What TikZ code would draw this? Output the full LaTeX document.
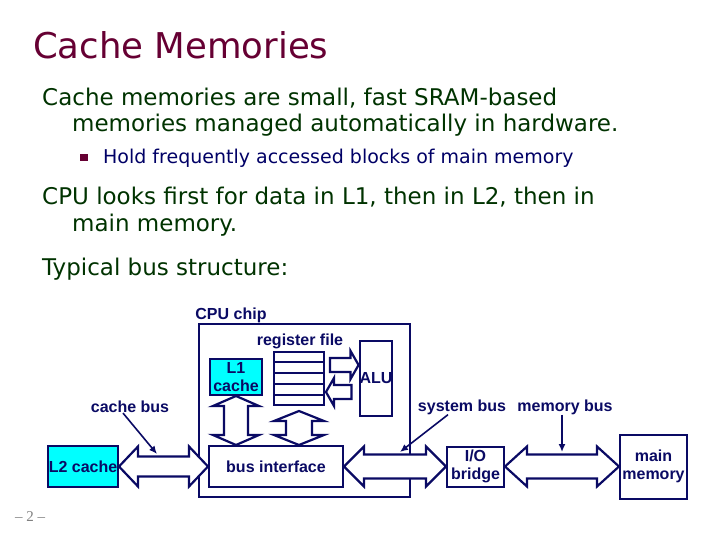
\documentclass[tikz,border=0pt]{standalone}
\usepackage{fontspec}
\setmainfont{DejaVu Sans}
\newfontfamily\arialfont{Liberation Sans}
\newfontfamily\numfont{Liberation Serif}
\usetikzlibrary{arrows.meta, calc}
\definecolor{slidemaroon}{RGB}{102,0,51}
\definecolor{slidegreen}{RGB}{0,51,0}
\definecolor{slidenavy}{RGB}{0,0,102}
\definecolor{busnavy}{RGB}{10,10,100}
\definecolor{cachecyan}{RGB}{0,255,255}

\tikzset{
  titletext/.style={text=slidemaroon, font=\fontsize{35.5}{40}\selectfont, inner sep=0pt, anchor=base west},
  bodytext/.style={text=slidegreen, font=\fontsize{23}{26}\selectfont, inner sep=0pt, anchor=base west},
  subtext/.style={text=slidenavy, font=\fontsize{19}{22}\selectfont, inner sep=0pt, anchor=base west},
  diaglabel/.style={text=busnavy, font=\arialfont\bfseries\fontsize{16}{18}\selectfont, inner sep=0pt, align=center},
  unitbox/.style={diaglabel, draw=busnavy, line width=2pt, fill=white},
  cachebox/.style={unitbox, fill=cachecyan},
  bus/.style={draw=busnavy, line width=2.2pt, fill=white, line join=miter},
  pointer/.style={draw=busnavy, line width=1.6pt, -{Latex[length=8pt,width=7pt]}}
}

% fat double arrow: tip a, tip b, head length, head half width, shaft half width
\newcommand{\fatbus}[5]{%
  \coordinate (ha) at ($(#1)!#3!(#2)$);
  \coordinate (hb) at ($(#2)!#3!(#1)$);
  \draw[bus] (#1) -- ($(ha)!#4!90:(#1)$) -- ($(ha)!#5!90:(#1)$) -- ($(hb)!#5!-90:(#2)$)
    -- ($(hb)!#4!-90:(#2)$) -- (#2) -- ($(hb)!#4!90:(#2)$) -- ($(hb)!#5!90:(#2)$)
    -- ($(ha)!#5!-90:(#1)$) -- ($(ha)!#4!-90:(#1)$) -- cycle;}
% fat single arrow: tail, tip, head length, head half width, shaft half width
\newcommand{\fatone}[5]{%
  \coordinate (hh) at ($(#2)!#3!(#1)$);
  \draw[bus] ($(#1)!#5!90:(#2)$) -- ($(hh)!#5!90:(#2)$) -- ($(hh)!#4!90:(#2)$) -- (#2)
    -- ($(hh)!#4!-90:(#2)$) -- ($(hh)!#5!-90:(#2)$) -- ($(#1)!#5!-90:(#2)$) -- cycle;}

\begin{document}
\begin{tikzpicture}[x=1pt, y=-1pt]
    \path[fill=white, use as bounding box] (0,0) rectangle (720,540);

    % slide text
    \node[titletext] (title) at (33,59) {Cache Memories};
    \node[bodytext] (p1a) at (42,106) {Cache memories are small, fast SRAM-based};
    \node[bodytext] (p1b) at (72,132) {memories managed automatically in hardware.};
    \node[fill=slidemaroon, minimum size=7.5, inner sep=0pt] (sq) at (84,157.5) {};
    \node[subtext] (p1c) at (103,164) {Hold frequently accessed blocks of main memory};
    \node[bodytext] (p2a) at (42,205) {CPU looks first for data in L1, then in L2, then in};
    \node[bodytext] (p2b) at (72,232) {main memory.};
    \node[bodytext] (p3) at (42,275) {Typical bus structure:};

    % cpu chip
    \node[draw=busnavy, line width=2pt, minimum width=211, minimum height=173] (chip) at (304.5,410.5) {};
    \node[diaglabel] (chiplbl) at (231,315) {CPU chip};
    \node[diaglabel] (reglbl) at (300,341) {register file};
    \node[cachebox, minimum width=52, minimum height=36] (l1) at (236,377) {L1\\cache};
    \node[unitbox, minimum width=50, minimum height=53] (regs) at (299,378.5) {};
    \foreach \k in {1,...,4}
        \draw[busnavy, line width=2pt] ($(regs.north west)!\k/5!(regs.south west)$) -- ($(regs.north east)!\k/5!(regs.south east)$);
    \node[unitbox, minimum width=28, minimum height=75] (alu) at (376,378.5) {ALU};
    \node[unitbox, minimum width=134, minimum height=41] (busif) at (276,466.5) {bus interface};

    % outside the chip
    \node[cachebox, minimum width=70, minimum height=41] (l2) at (83,466.5) {L2 cache};
    \node[unitbox, minimum width=57, minimum height=40] (bridge) at (475.5,466.5) {I/O\\bridge};
    \node[unitbox, minimum width=67, minimum height=64] (mem) at (653.5,466.5) {main\\memory};

    % buses
    \coordinate (aluin) at ($(alu.west)+(0,-13.5)$);
    \coordinate (regout) at ($(regs.east)+(5,-13.5)$);
    \coordinate (aluout) at ($(alu.west)+(-7,13.5)$);
    \coordinate (regin) at ($(regs.east)+(1,13.5)$);
    \fatone{regout}{aluin}{8pt}{14pt}{7pt}
    \fatone{aluout}{regin}{8pt}{14pt}{7pt}
    \coordinate (l1bus) at (l1.south |- busif.north);
    \coordinate (regbot) at ($(regs.south)+(0,5)$);
    \coordinate (regbus) at (regs.south |- busif.north);
    \fatbus{l1.south}{l1bus}{10pt}{23pt}{12pt}
    \fatbus{regbot}{regbus}{10pt}{25pt}{13pt}
    \fatbus{l2.east}{busif.west}{19pt}{20pt}{10pt}
    \fatbus{busif.east}{bridge.west}{20pt}{20pt}{12pt}
    \fatbus{bridge.east}{mem.west}{22pt}{20pt}{12pt}

    % bus labels
    \node[diaglabel] (cbus) at (130,407) {cache bus};
    \node[diaglabel] (sbus) at (462,407) {system bus};
    \node[diaglabel] (mbus) at (565,407) {memory bus};
    \coordinate (cbtip) at (157,454);
    \coordinate (sbtip) at (400,452);
    \coordinate (mbtip) at (562,452);
    \draw[pointer] ([xshift=-7pt]cbus.south) -- (cbtip);
    \draw[pointer] ([xshift=-14pt]sbus.south) -- (sbtip);
    \draw[pointer] ([xshift=-3pt]mbus.south) -- (mbtip);

    \node[text=gray, font=\numfont\fontsize{15}{15}\selectfont] (pg) at (30,517) {– 2 –};
\end{tikzpicture}
\end{document}
